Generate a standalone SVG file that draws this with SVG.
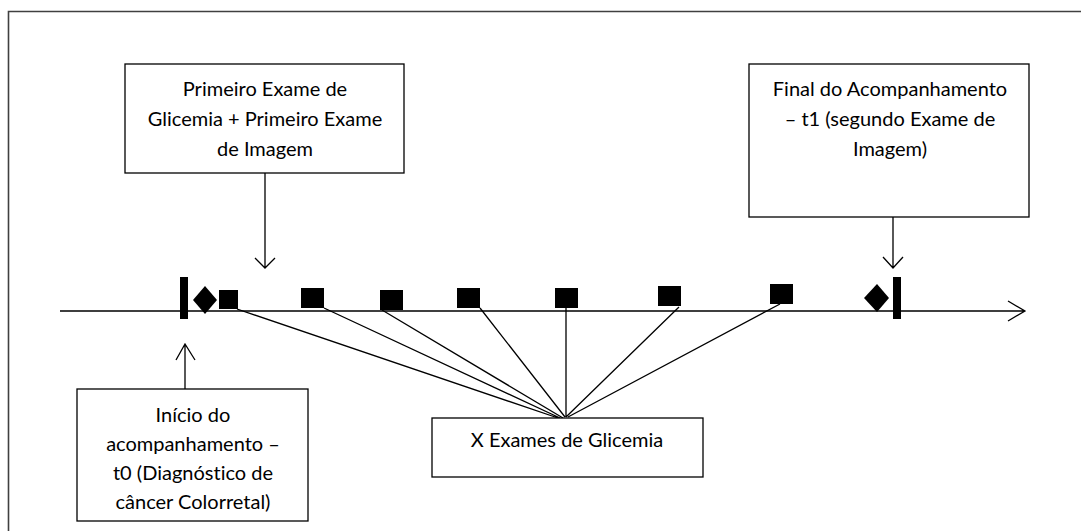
<svg xmlns="http://www.w3.org/2000/svg" width="1081" height="531" viewBox="0 0 1081 531">
<style>
.box{fill:#fff;stroke:#000;stroke-width:1.3}
.ln{fill:none;stroke:#000;stroke-width:1.3}
.mk{fill:#000;stroke:none}
text{font-family:Lato,"Liberation Sans",sans-serif;font-size:20px;fill:#000;text-anchor:middle;font-variant-ligatures:none}
</style>
<rect width="1081" height="531" fill="#fff"/>
<g id="frame"><path d="M8.5,531 V11.5 H1081" fill="none" stroke="#404040" stroke-width="1.6"/></g>
<g id="connectors">
<path class="ln" d="M60,311 H1025 M1008,301 L1025,311 L1008,321"/>
<path class="ln" d="M265,173 V268 M255,258 L265,268 L275,258"/>
<path class="ln" d="M893,217 V268 M883,257 L893,268 L903,257"/>
<path class="ln" d="M185,389 V344 M176,360 L185,344 L195,360"/>
<path class="ln" d="M237,309 L558,418 M324,308 L560,418 M382,310 L563,418 M480,308 L565,417 M566,308 V417 M679,307 L566,417 M780,304 L568,417"/>
</g>
<g id="markers">
<rect class="mk" x="180" y="277" width="8" height="42"/>
<polygon class="mk" points="205,286 217,300 205,314 193,300"/>
<rect class="mk" x="219" y="290" width="19" height="19"/>
<rect class="mk" x="301" y="288" width="23" height="20"/>
<rect class="mk" x="380" y="290" width="23" height="20"/>
<rect class="mk" x="457" y="288" width="23" height="20"/>
<rect class="mk" x="555" y="288" width="23" height="20"/>
<rect class="mk" x="658" y="286" width="23" height="20"/>
<rect class="mk" x="770" y="284" width="23" height="20"/>
<polygon class="mk" points="877,284 889,298 877,312 864,298"/>
<rect class="mk" x="893" y="277" width="8" height="42"/>
</g>
<g id="node-primeiro">
<rect class="box" x="125" y="64" width="279" height="109"/>
<text x="265" y="96">Primeiro Exame de</text>
<text x="265" y="126">Glicemia + Primeiro Exame</text>
<text x="265" y="156">de Imagem</text>
</g>
<g id="node-final">
<rect class="box" x="749" y="64" width="280" height="153"/>
<text x="890" y="96">Final do Acompanhamento</text>
<text x="890" y="126">– t1 (segundo Exame de</text>
<text x="890" y="156">Imagem)</text>
</g>
<g id="node-inicio">
<rect class="box" x="77" y="389" width="231" height="132"/>
<text x="193" y="422">Início do</text>
<text x="193" y="451">acompanhamento –</text>
<text x="193" y="480">t0 (Diagnóstico de</text>
<text x="193" y="509">câncer Colorretal)</text>
</g>
<g id="node-x">
<rect class="box" x="432" y="418" width="271" height="59"/>
<text x="567" y="447">X Exames de Glicemia</text>
</g>
</svg>
